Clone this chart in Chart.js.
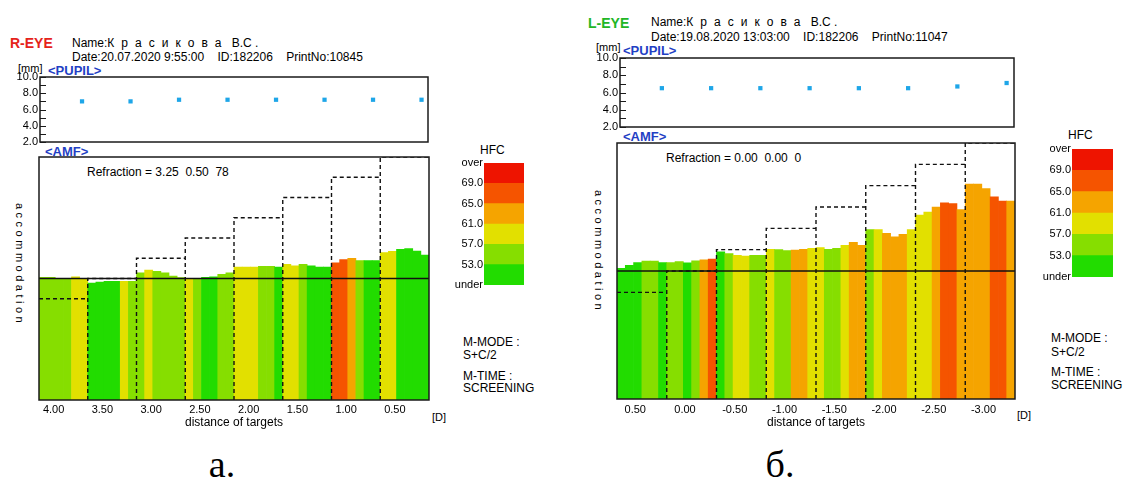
<!DOCTYPE html>
<html>
<head>
<meta charset="utf-8">
<title>AMF</title>
<script src="https://cdn.jsdelivr.net/npm/chart.js@4.4.1/dist/chart.umd.min.js"></script>
<style>
  html, body { margin: 0; padding: 0; background: #fff; }
  #page { position: relative; width: 1123px; height: 490px; overflow: hidden; font-family: "Liberation Sans", Arial, sans-serif; font-size: 12px; color: #000; }
  #page canvas { position: absolute; }
  .t { position: absolute; white-space: pre; line-height: 14px; }
  .eye { font-weight: bold; font-size: 14px; }
  .tag { color: #1f3fc4; font-weight: bold; font-size: 13px; }
  .sm { font-size: 11px; }
  .vert { writing-mode: vertical-rl; letter-spacing: 3.5px; font-size: 11px; line-height: 11px; }
  .fig { font-family: "Liberation Serif", serif; font-size: 38px; line-height: 40px; width: 80px; text-align: center; }
</style>
</head>
<body>
<div id="page">
  <!-- R-EYE header -->
  <div class="t eye" style="left:10px;top:36px;color:#e5231b">R-EYE</div>
  <div class="t" style="left:72px;top:36px">Name:<span style="letter-spacing:7px">Красикова</span> В.С .</div>
  <div class="t" style="left:72px;top:50px">Date:20.07.2020 9:55:00    ID:182206    PrintNo:10845</div>
  <div class="t sm" style="left:18px;top:61px">[mm]</div>
  <div class="t tag" style="left:48px;top:64px">&lt;PUPIL&gt;</div>
  <div class="t tag" style="left:45px;top:145px">&lt;AMF&gt;</div>
  <div class="t" style="left:87px;top:165px">Refraction = 3.25  0.50  78</div>
  <div class="t vert" style="left:14px;top:203px">accommodation</div>
  <div class="t sm" style="left:432px;top:410px">[D]</div>
  <div class="t" style="left:480px;top:143px">HFC</div>
  <div class="t" style="left:463px;top:335px">M-MODE :</div>
  <div class="t" style="left:463px;top:348px">S+C/2</div>
  <div class="t" style="left:463px;top:369px">M-TIME :</div>
  <div class="t" style="left:463px;top:381px">SCREENING</div>
  <div class="t fig" style="left:182px;top:444px">a.</div>

  <!-- L-EYE header -->
  <div class="t eye" style="left:588px;top:16px;color:#22b626">L-EYE</div>
  <div class="t" style="left:651px;top:15px">Name:<span style="letter-spacing:7px">Красикова</span> В.С .</div>
  <div class="t" style="left:651px;top:30px">Date:19.08.2020 13:03:00    ID:182206    PrintNo:11047</div>
  <div class="t sm" style="left:596px;top:40px">[mm]</div>
  <div class="t tag" style="left:623px;top:44px">&lt;PUPIL&gt;</div>
  <div class="t tag" style="left:623px;top:130px">&lt;AMF&gt;</div>
  <div class="t" style="left:666px;top:151px">Refraction = 0.00  0.00  0</div>
  <div class="t vert" style="left:593px;top:190px">accommodation</div>
  <div class="t sm" style="left:1017px;top:408px">[D]</div>
  <div class="t" style="left:1068px;top:128px">HFC</div>
  <div class="t" style="left:1051px;top:331px">M-MODE :</div>
  <div class="t" style="left:1051px;top:345px">S+C/2</div>
  <div class="t" style="left:1051px;top:365px">M-TIME :</div>
  <div class="t" style="left:1051px;top:378px">SCREENING</div>
  <div class="t fig" style="left:740px;top:444px">б.</div>

  <canvas id="rPupilChart" width="440" height="95" style="left:0;top:60px"></canvas>
  <canvas id="rAmfChart" width="450" height="290" style="left:0;top:140px"></canvas>
  <canvas id="rHfcChart" width="110" height="145" style="left:430px;top:150px"></canvas>

  <canvas id="lPupilChart" width="450" height="100" style="left:580px;top:40px"></canvas>
  <canvas id="lAmfChart" width="460" height="305" style="left:580px;top:125px"></canvas>
  <canvas id="lHfcChart" width="103" height="151" style="left:1020px;top:136px"></canvas>
</div>

<script>
// target distances, D
const rTargets = ['4.00', '3.50', '3.00', '2.50', '2.00', '1.50', '1.00', '0.50'];
const lTargets = ['0.50', '0.00', '-0.50', '-1.00', '-1.50', '-2.00', '-2.50', '-3.00'];

// stimulus step for every target, D relative to refraction
const rStimulus = [-0.5, 0, 0.5, 1.0, 1.5, 2.0, 2.5, 3.0];
const lStimulus = [-0.5, 0, 0.5, 1.0, 1.5, 2.0, 2.5, 3.0];

// pupil, mm (one per target)
const rPupil = [7.0, 7.0, 7.2, 7.2, 7.2, 7.2, 7.2, 7.2];
const lPupil = [6.5, 6.5, 6.5, 6.5, 6.5, 6.5, 6.7, 7.1];

// accommodation response, 6 samples per target
const rAccom = [
  0.03, 0.03, 0.00, 0.00, 0.04, 0.00,
  -0.11, -0.09, -0.07, -0.07, -0.07, -0.07,
  0.14, 0.21, 0.18, 0.14, 0.06, 0.02,
  0.00, 0.00, 0.03, 0.04, 0.10, 0.14,
  0.28, 0.28, 0.28, 0.30, 0.30, 0.28,
  0.35, 0.31, 0.35, 0.31, 0.28, 0.28,
  0.39, 0.47, 0.50, 0.44, 0.44, 0.44,
  0.64, 0.67, 0.72, 0.74, 0.68, 0.58
];
const rHfc = [
  55, 55, 55, 55, 59, 59,
  51, 51, 51, 51, 59, 55,
  55, 59, 55, 55, 55, 55,
  59, 55, 51, 51, 55, 55,
  59, 59, 59, 55, 55, 51,
  59, 59, 55, 51, 51, 51,
  67, 67, 63, 55, 51, 51,
  59, 59, 51, 51, 51, 51
];
const lAccom = [
  0.06, 0.13, 0.20, 0.23, 0.23, 0.20,
  0.20, 0.22, 0.19, 0.24, 0.26, 0.28,
  0.45, 0.41, 0.37, 0.35, 0.37, 0.37,
  0.51, 0.50, 0.48, 0.49, 0.51, 0.53,
  0.55, 0.51, 0.53, 0.60, 0.67, 0.60,
  0.97, 0.97, 0.88, 0.80, 0.86, 0.97,
  1.31, 1.38, 1.50, 1.60, 1.58, 1.44,
  2.04, 2.04, 1.93, 1.74, 1.64, 1.64
];
const lHfc = [
  51, 51, 51, 55, 55, 51,
  55, 55, 51, 55, 63, 67,
  51, 55, 59, 59, 55, 55,
  59, 55, 55, 63, 63, 59,
  59, 55, 55, 59, 63, 63,
  55, 59, 63, 63, 63, 59,
  59, 59, 63, 67, 67, 63,
  63, 63, 63, 67, 67, 63
];

const hfcLabels = ['under', '53.0', '57.0', '61.0', '65.0', '69.0', 'over'];
const hfcSteps = [53, 57, 61, 65, 69];
const hfcColors = ['#22dc00', '#86de00', '#e2e000', '#f5a400', '#f55400', '#ee1400'];

Chart.defaults.font.family = '"Liberation Sans", Arial, sans-serif';
Chart.defaults.color = '#000';

function hfcColor(v) {
  let i = 0;
  while (i < hfcSteps.length && v >= hfcSteps[i]) i++;
  return hfcColors[i];
}

// box round the plot area
const frame = {
  id: 'frame',
  afterDraw(chart) {
    const a = chart.chartArea, ctx = chart.ctx;
    ctx.save();
    ctx.strokeStyle = '#1a1a1a';
    ctx.lineWidth = 1.5;
    ctx.strokeRect(a.left, a.top, a.right - a.left, a.bottom - a.top);
    ctx.restore();
  }
};

// tick marks pointing into the plot
const innerTicks = {
  id: 'innerTicks',
  afterDraw(chart) {
    const y = chart.scales.y, ctx = chart.ctx, left = chart.chartArea.left;
    ctx.save();
    ctx.strokeStyle = '#1a1a1a';
    ctx.lineWidth = 1;
    for (let v = y.min; v <= y.max; v++) {
      const p = Math.round(y.getPixelForValue(v)) + 0.5;
      ctx.beginPath();
      ctx.moveTo(left, p);
      ctx.lineTo(left + 6, p);
      ctx.stroke();
    }
    ctx.restore();
  }
};

function pupilChart(id, values, offset, pad) {
  new Chart(document.getElementById(id), {
    type: 'scatter',
    data: {
      datasets: [{
        data: values.map((v, i) => ({ x: i * 6 + offset, y: v })),
        pointStyle: 'rect',
        pointRadius: 3,
        borderWidth: 0,
        backgroundColor: '#1ea6e8'
      }]
    },
    options: {
      responsive: false,
      animation: false,
      devicePixelRatio: 1,
      layout: { padding: pad },
      plugins: { legend: { display: false }, tooltip: { enabled: false } },
      scales: {
        x: { type: 'linear', display: false, min: 0, max: 48 },
        y: {
          min: 2, max: 10,
          afterFit: s => { s.width = 40; },
          grid: { display: false, drawTicks: false },
          border: { display: false },
          ticks: {
            stepSize: 1,
            autoSkip: false,
            padding: 2,
            font: { size: 11 },
            callback: v => (v % 2 === 0 ? v.toFixed(1) : '')
          }
        }
      }
    },
    plugins: [frame, innerTicks]
  });
}

function amfChart(id, accom, hfc, stimulus, labels, labelOffset, pad, axisHeight, tickPad) {
  // dashed outline of the stimulus steps, one box per target
  const stairs = [{ x: 0, y: stimulus[0] }, { x: 6, y: stimulus[0] }, { x: 6, y: null }];
  for (let k = 1; k < stimulus.length; k++) {
    const top = Math.max(stimulus[k - 1], stimulus[k]);
    stairs.push({ x: k * 6, y: -3 }, { x: k * 6, y: top }, { x: k * 6 + 6, y: stimulus[k] }, { x: k * 6 + 6, y: null });
  }

  new Chart(document.getElementById(id), {
    type: 'bar',
    data: {
      datasets: [
        {
          type: 'line',
          data: stairs,
          borderColor: '#111',
          borderWidth: 1.4,
          borderDash: [4, 3],
          pointRadius: 0,
          fill: false,
          spanGaps: false,
          order: 1
        },
        {
          type: 'line',
          data: [{ x: 0, y: 0 }, { x: 48, y: 0 }],
          borderColor: '#111',
          borderWidth: 1.5,
          pointRadius: 0,
          fill: false,
          order: 2
        },
        {
          type: 'bar',
          data: accom.map((v, i) => ({ x: i + 0.5, y: v })),
          backgroundColor: hfc.map(hfcColor),
          borderWidth: 0,
          base: -3,
          barPercentage: 1,
          categoryPercentage: 1,
          order: 3
        }
      ]
    },
    options: {
      responsive: false,
      animation: false,
      devicePixelRatio: 1,
      layout: { padding: pad },
      plugins: { legend: { display: false }, tooltip: { enabled: false } },
      scales: {
        x: {
          type: 'linear',
          min: 0, max: 48,
          offset: false,
          afterFit: s => { s.height = axisHeight; },
          afterBuildTicks: s => { s.ticks = labels.map((l, k) => ({ value: k * 6 + labelOffset })); },
          grid: { display: false, drawTicks: false },
          border: { display: false },
          ticks: {
            autoSkip: false,
            maxRotation: 0,
            padding: tickPad,
            font: { size: 11 },
            callback: (v, i) => labels[i]
          },
          title: { display: true, text: 'distance of targets', font: { size: 12 }, padding: 0 }
        },
        y: { display: false, min: -3, max: 3 }
      }
    },
    plugins: [frame]
  });
}

function hfcChart(id, axisWidth, pad) {
  new Chart(document.getElementById(id), {
    type: 'bar',
    data: {
      labels: [''],
      datasets: hfcColors.map(c => ({ data: [1], backgroundColor: c, borderWidth: 0 }))
    },
    options: {
      responsive: false,
      animation: false,
      devicePixelRatio: 1,
      layout: { padding: pad },
      barPercentage: 1,
      categoryPercentage: 1,
      plugins: { legend: { display: false }, tooltip: { enabled: false } },
      scales: {
        x: { display: false, stacked: true },
        y: {
          stacked: true,
          min: 0, max: 6,
          afterFit: s => { s.width = axisWidth; },
          grid: { display: false, drawTicks: false },
          border: { display: false },
          ticks: {
            stepSize: 1,
            autoSkip: false,
            padding: 1,
            font: { size: 11 },
            callback: v => hfcLabels[v]
          }
        }
      }
    }
  });
}

pupilChart('rPupilChart', rPupil, 5.2, { top: 17, bottom: 13, left: 0, right: 12 });
amfChart('rAmfChart', rAccom, rHfc, rStimulus, rTargets, 1.8, { top: 17, bottom: 0, left: 39, right: 21 }, 30, 3);
hfcChart('rHfcChart', 54, { top: 13, bottom: 10, left: 0, right: 16 });

pupilChart('lPupilChart', lPupil, 5.1, { top: 18, bottom: 13, left: 0, right: 16 });
amfChart('lAmfChart', lAccom, lHfc, lStimulus, lTargets, 2.2, { top: 18, bottom: 0, left: 37, right: 25 }, 31, 4);
hfcChart('lHfcChart', 52, { top: 13, bottom: 10, left: 0, right: 10 });
</script>
</body>
</html>
